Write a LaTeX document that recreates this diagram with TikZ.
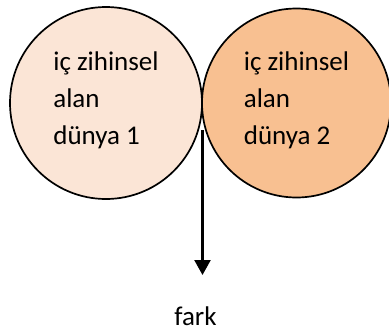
\documentclass[tikz,border=0pt]{standalone}
\usepackage{fontspec}
\setmainfont{Carlito}
\usetikzlibrary{arrows.meta}
\definecolor{lightpeach}{HTML}{FBE5D6}
\definecolor{darkpeach}{HTML}{F8C091}

\begin{document}
\begin{tikzpicture}[x=1pt,y=-1pt]
                \useasboundingbox (0,0) rectangle (389,333);
                \begin{scope}[every node/.style={draw, circle, line width=1.7pt, minimum size=192pt, inner sep=0}]
                        \node [fill=lightpeach] (W1) at (106,103) {};
                        \node [fill=darkpeach, minimum size=189pt] (W2) at (296.5,103) {};
                \end{scope}

                \begin{scope}[every node/.style={align=left, inner sep=0, font=\fontsize{27}{37}\selectfont}]
                        \node (T1) at ([yshift=3pt]W1.center) {iç zihinsel\\alan\\dünya 1};
                        \node (T2) at ([yshift=3pt]W2.center) {iç zihinsel\\alan\\dünya 2};
                        \node [anchor=base] (F) at (195.5,325) {fark};
                \end{scope}

                \coordinate (Split) at (202.5,130);
                \coordinate (Tip) at (202.5,275);
                \draw [line width=2.4pt, -{Triangle[width=16pt,length=15pt]}] (Split) -- (Tip);
        \end{tikzpicture}
\end{document}
